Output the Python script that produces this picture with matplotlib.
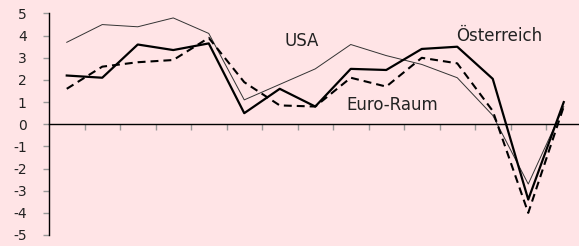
import matplotlib
matplotlib.use('Agg')
import matplotlib.pyplot as plt
import numpy as np

plt.rcParams['font.family'] = ['DejaVu Sans']

years = list(range(1996, 2011))
usa = [3.7, 4.5, 4.4, 4.8, 4.1, 1.1, 1.8, 2.5, 3.6, 3.1, 2.7, 2.1, 0.4, -2.7, 0.8]
oesterreich = [2.2, 2.1, 3.6, 3.35, 3.65, 0.5, 1.6, 0.8, 2.5, 2.45, 3.4, 3.5, 2.05, -3.4, 1.0]
euro_raum = [1.6, 2.6, 2.8, 2.9, 3.9, 1.9, 0.85, 0.8, 2.1, 1.7, 3.0, 2.75, 0.6, -4.0, 0.8]
y_ticks = [5, 4, 3, 2, 1, 0, -1, -2, -3, -4, -5]

bg = '#FFE4E6'
fig = plt.figure(figsize=(5.79, 2.46), dpi=100, facecolor=bg)
ax = fig.add_axes([49 / 579, 11 / 246, 532.5 / 579, 221.5 / 246])
ax.set_facecolor(bg)

x = np.arange(len(years))
ax.plot(x, usa, color='#333333', lw=0.7)
ax.plot(x, euro_raum, color='black', lw=1.5, dashes=(3.8, 2.4))
ax.plot(x, oesterreich, color='black', lw=1.6)

ax.set_xlim(-0.5, len(years) - 0.5)
ax.set_ylim(-5, 5)
ax.set_yticks(y_ticks)
ax.set_yticklabels([str(v) for v in y_ticks], fontsize=10, color='#222222')
ax.set_xticks(x[1:] - 0.5)
ax.set_xticklabels([])

for s in ['top', 'right']:
    ax.spines[s].set_visible(False)
ax.spines['bottom'].set_position(('data', 0))
ax.spines['bottom'].set_linewidth(1.0)
ax.spines['left'].set_linewidth(1.0)
ax.tick_params(axis='x', direction='out', length=4, color='#999999', width=1)
ax.tick_params(axis='y', direction='out', length=4, color='#999999', width=1, pad=12)

ax.text(6.63, 3.76, 'USA', fontsize=12, ha='center', va='center', color='#222222')
ax.text(7.89, 0.87, 'Euro-Raum', fontsize=12, ha='left', va='center', color='#222222')
ax.text(10.98, 3.98, 'Österreich', fontsize=12, ha='left', va='center', color='#222222')

fig.savefig('out.png', dpi=100, facecolor=bg)
